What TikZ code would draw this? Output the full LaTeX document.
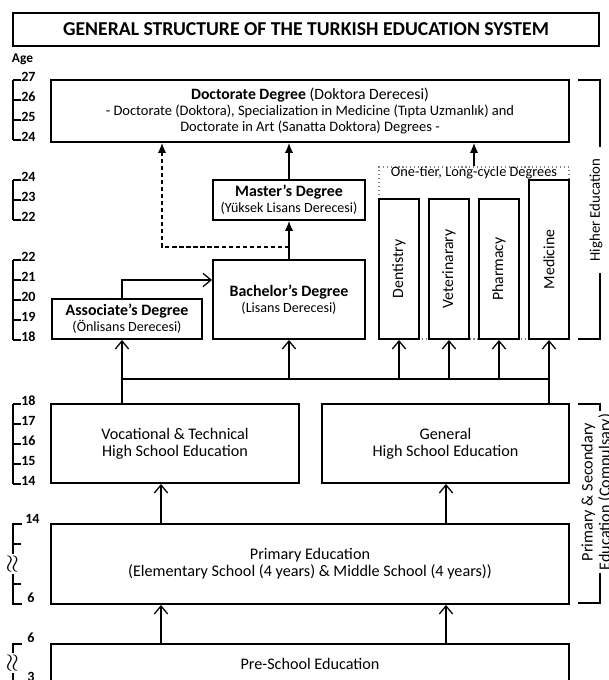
\documentclass[tikz,border=0pt]{standalone}
\usepackage{fontspec}
\setmainfont{Carlito}
\usetikzlibrary{arrows.meta}

\begin{document}
\begin{tikzpicture}[x=0.025cm,y=-0.025cm,
		box/.style={draw,line width=1.35pt,fill=white,align=center,inner sep=0pt,font=\fontsize{10}{11.5}\selectfont},
		lowbox/.style={box,font=\fontsize{11.5}{12.2}\selectfont},
		vbox/.style={box,minimum width=1cm,minimum height=3.5cm,font=\fontsize{11.2}{12}\selectfont},
		link/.style={line width=0.9pt},
		up/.style={link,-{Straight Barb[length=2mm,width=3.3mm]}},
		upf/.style={link,-{Latex[length=2.5mm,width=2.1mm]}},
		agescale/.style={line width=0.9pt},
		agelab/.style={anchor=west,inner sep=0pt,font=\bfseries\fontsize{10}{11}\selectfont},
		wavy/.style={rotate=90,fill=white,inner sep=0.3pt,font=\fontsize{17}{17}\selectfont},
		sidelab/.style={rotate=90,fill=white,align=center,inner ysep=1pt,font=\fontsize{10.5}{12.5}\selectfont}]
		\useasboundingbox (0,0) rectangle (609,680);
		
		% Title
		\node[box,minimum width=14.65cm,minimum height=0.825cm,font=\bfseries\fontsize{14}{16}\selectfont] (title) at (306,29.5) {GENERAL STRUCTURE OF THE TURKISH EDUCATION SYSTEM};
		\node[inner sep=0pt,font=\bfseries\fontsize{9.5}{11}\selectfont] (age) at (22.5,59) {Age};
		
		% Higher education
		\node[box,minimum width=12.95cm,minimum height=1.55cm,font=\fontsize{10.3}{11.3}\selectfont] (doct) at (310,111) {{\fontsize{11.2}{11.3}\selectfont\textbf{Doctorate Degree} (Doktora Derecesi)}\\- Doctorate (Doktora), Specialization in Medicine (Tıpta Uzmanlık) and\\Doctorate in Art (Sanatta Doktora) Degrees -};
		\node[box,minimum width=3.8cm,minimum height=1cm] (master) at (289,200) {\textbf{\fontsize{11.3}{12}\selectfont Master's Degree}\\(Yüksek Lisans Derecesi)};
		\node[box,minimum width=3.8cm,minimum height=1.975cm] (bach) at (289,299.5) {\textbf{\fontsize{11.3}{11}\selectfont Bachelor's Degree}\\(Lisans Derecesi)};
		\node[box,minimum width=3.75cm,minimum height=1cm] (assoc) at (127,319) {\textbf{\fontsize{11.3}{10.5}\selectfont Associate's Degree}\\(Önlisans Derecesi)};
		
		% One-tier degrees
		\node[draw=gray,dotted,line width=0.8pt,minimum width=4.75cm,minimum height=4.3cm] (tier) at (474,253) {};
		\node[inner sep=0pt,font=\fontsize{10.2}{11}\selectfont] (tierlab) at (474,173) {One-tier, Long-cycle Degrees};
		\node[vbox] (dent) at (399,269) {\rotatebox{90}{Dentistry}};
		\node[vbox] (veter) at (449,269) {\rotatebox{90}{Veterinarary}};
		\node[vbox] (pharm) at (499,269) {\rotatebox{90}{Pharmacy}};
		\node[vbox,minimum height=3.975cm] (med) at (549,259.5) {\rotatebox{90}{Medicine}};
		
		% Secondary and primary
		\node[lowbox,minimum width=6.2cm,minimum height=1.975cm] (voc) at (175,443.5) {Vocational \& Technical\\High School Education};
		\node[lowbox,minimum width=6.175cm,minimum height=1.975cm] (gen) at (445.5,443.5) {General\\High School Education};
		\node[lowbox,minimum width=12.95cm,minimum height=2cm] (prim) at (310,564) {Primary Education\\(Elementary School (4 years) \& Middle School (4 years))};
		\node[lowbox,minimum width=12.95cm,minimum height=1cm] (pre) at (310,664) {Pre-School Education};
		
		% Arrows
		\coordinate (busl) at (122,379);
		\coordinate (busr) at (549,379);
		\coordinate (ajoin) at (122,280);
		\coordinate (dj) at (289,247);
		\coordinate (dcol) at (162,247);
		\coordinate (lcol) at (161,604);
		\coordinate (rcol) at (446,604);
		\draw[upf] (master) -- (master.north |- doct.south);
		\draw[upf] (bach) -- (master);
		\draw[upf,dashed,dash pattern=on 3pt off 2pt] (dj) -- (dcol) -- (dcol |- doct.south);
		\draw[upf] (tier.north) -- (tier.north |- doct.south);
		\draw[up] (assoc.north -| ajoin) -- (ajoin) -- (bach.west |- ajoin);
		\draw[link] (voc.north -| busl) -- (busl) -- (busr) -- (gen.north -| busr);
		\draw[up] (busl) -- (assoc.south -| busl);
		\draw[up] (bach.south |- busl) -- (bach.south);
		\foreach \n in {dent,veter,pharm,med}
			\draw[up] (\n.south |- busl) -- (\n.south);
		\draw[up] (prim.north -| lcol) -- (voc.south -| lcol);
		\draw[up] (prim.north -| rcol) -- (gen.south -| rcol);
		\draw[up] (pre.north -| lcol) -- (prim.south -| lcol);
		\draw[up] (pre.north -| rcol) -- (prim.south -| rcol);
		
		% Side brackets
		\draw[agescale] (578,80) -- (600,80) -- (600,339) -- (578,339);
		\node[sidelab,inner xsep=0.3cm] (hiedu) at (596,210) {Higher Education};
		\draw[agescale] (578,404) -- (600,404) -- (600,603) -- (578,603);
		\node[sidelab,inner xsep=2pt,font=\fontsize{11.5}{12.5}\selectfont] (compedu) at (597,492) {Primary \& Secondary\\Education (Compulsary)};
		
		% Age scale
		\foreach \top/\bot in {80/140,180/220,260/340,404/484}
			\draw[agescale] (13,\top) -- (13,\bot);
		\foreach \yy/\aa in {80/27,100/26,120/25,140/24}
			{\draw[agescale] (13,\yy) -- (21,\yy); \node[agelab] (a\aa) at (21,\yy-3) {\aa};}
		\foreach \yy/\aa in {180/24,200/23,220/22}
			{\draw[agescale] (13,\yy) -- (21,\yy); \node[agelab] (b\aa) at (21,\yy-3) {\aa};}
		\foreach \yy/\aa in {260/22,280/21,300/20,320/19,340/18}
			{\draw[agescale] (13,\yy) -- (21,\yy); \node[agelab] (c\aa) at (21,\yy-3) {\aa};}
		\foreach \yy/\aa in {404/18,424/17,444/16,464/15,484/14}
			{\draw[agescale] (13,\yy) -- (21,\yy); \node[agelab] (d\aa) at (21,\yy-3) {\aa};}
		\draw[agescale] (22,524) -- (13,524) -- (13,604) -- (22,604);
		\draw[agescale] (13,544) -- (21,544) (13,584) -- (21,584);
		\node[wavy] (eapprox) at (13,564) {$\approx$};
		\node[agelab] (e14) at (25,519) {14};
		\node[agelab] (e6) at (27,598) {6};
		\draw[agescale] (22,644) -- (13,644) -- (13,681) -- (22,681);
		\node[wavy] (fapprox) at (13,663) {$\approx$};
		\node[agelab] (f6) at (27,638) {6};
		\node[agelab] (f3) at (27,677) {3};
		
		\end{tikzpicture}
\end{document}
